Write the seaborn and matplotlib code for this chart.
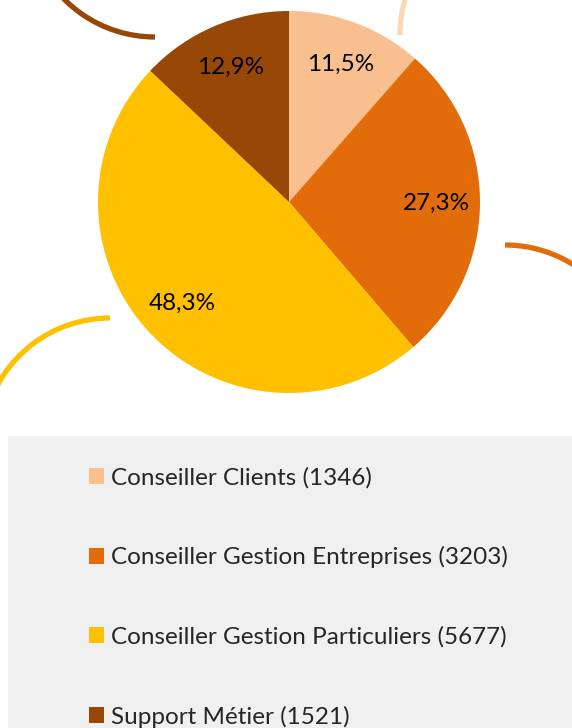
import matplotlib
matplotlib.use("Agg")
import matplotlib.pyplot as plt
from matplotlib.patches import Arc, Rectangle
import seaborn as sns

# data
categories = ["Conseiller Clients", "Conseiller Gestion Entreprises",
              "Conseiller Gestion Particuliers", "Support Métier"]
counts = [1346, 3203, 5677, 1521]
colors = ["#F9C08F", "#E36C0A", "#FFC000", "#974706"]

sns.set_theme(style="white")
plt.rcParams["font.family"] = ["Lato", "DejaVu Sans"]
palette = sns.color_palette(colors)

W, H = 572, 728
fig = plt.figure(figsize=(W / 100, H / 100), dpi=100)

# decorative arcs (background layer, pixel coords with y up)
bg = fig.add_axes([0, 0, 1, 1])
bg.set_xlim(0, W)
bg.set_ylim(0, H)
bg.axis("off")
arcs = [
    ((155, H + 91), 200, 270, colors[3]),
    ((528, H - 35), 150, 180, "#FBD7B8"),
    ((505, H - 373), 40, 90, colors[1]),
    ((110, H - 446), 90, 165, colors[2]),
]
for (cx, cy), t1, t2, c in arcs:
    bg.add_patch(Arc((cx, cy), 256, 256, theta1=t1, theta2=t2, color=c, lw=3.8))

# legend background box
bg.add_patch(Rectangle((8, 0), W - 8, H - 436, facecolor="#F0F0F0", edgecolor="none"))

# pie
cx, cy, r = 289, 202, 191
ax = fig.add_axes([(cx - r) / W, (H - cy - r) / H, 2 * r / W, 2 * r / H])


def fmt(p):
    return f"{p:.1f}%".replace(".", ",")


wedges, texts, autotexts = ax.pie(
    counts, colors=palette, startangle=90, counterclock=False,
    autopct=fmt, pctdistance=0.77, radius=1,
    wedgeprops=dict(linewidth=0),
    textprops=dict(fontsize=17.5, color="black"),
)
ax.set_xlim(-1, 1)
ax.set_ylim(-1, 1)
ax.set_aspect("equal")

labels = [f"{c} ({n})" for c, n in zip(categories, counts)]
fig.legend(wedges, labels, loc="upper left", bbox_to_anchor=(89 / W, (H - 467) / H),
           frameon=False, fontsize=17.5, handlelength=0.62, handleheight=0.62,
           handletextpad=0.3, labelspacing=2.38, borderpad=0, borderaxespad=0)

fig.savefig("out.png", dpi=100)
